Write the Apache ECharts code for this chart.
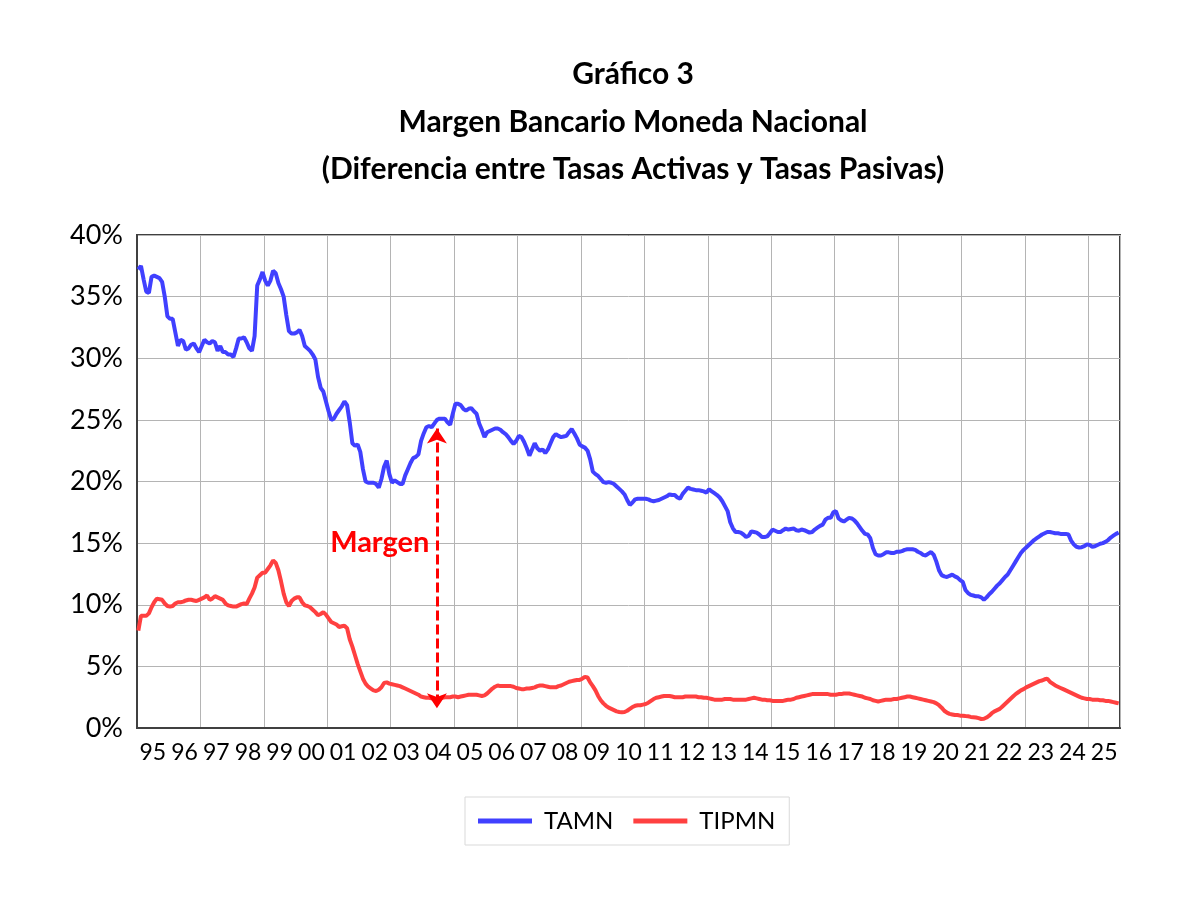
<!DOCTYPE html>
<html>
<head>
<meta charset="utf-8">
<script src="https://cdn.jsdelivr.net/npm/echarts@6/dist/echarts.min.js"></script>
<style>
html,body{margin:0;padding:0;background:#fff;}
#chart{width:1200px;height:905px;}
</style>
</head>
<body>
<div id="chart"></div>
<script>
// Year labels (one per year, 1995-2025)
const years = ['95','96','97','98','99','00','01','02','03','04','05','06','07','08','09','10','11','12','13','14','15','16','17','18','19','20','21','22','23','24','25'];

// TAMN monthly, %, Jan 1995 - Dec 2025
const tamn = [
  37.2,37.5,36.4,35.4,35.3,36.6,36.7,36.6,36.5,36.2,35.0,33.4,
  33.2,33.2,32.1,31.0,31.5,31.4,30.7,30.8,31.1,31.2,30.8,30.5,
  31.0,31.5,31.3,31.2,31.4,31.3,30.6,31.0,30.5,30.5,30.3,30.3,
  30.1,30.8,31.6,31.6,31.7,31.3,30.8,30.6,31.8,35.9,36.4,37.0,
  36.3,35.9,36.3,37.1,36.9,36.1,35.6,35.0,33.5,32.2,32.0,32.0,
  32.1,32.3,31.8,31.0,30.8,30.6,30.3,29.9,28.5,27.6,27.3,26.5,
  25.7,25.0,25.1,25.5,25.8,26.1,26.5,26.2,24.8,23.1,22.9,23.0,
  22.4,21.0,20.0,19.9,19.9,19.9,19.8,19.5,20.2,21.2,21.7,20.6,
  19.9,20.1,19.95,19.8,19.8,20.5,21.0,21.5,21.9,22.0,22.2,23.3,
  23.9,24.4,24.5,24.4,24.7,25.0,25.1,25.1,25.1,24.8,24.6,25.5,
  26.3,26.3,26.2,25.9,25.75,25.9,25.95,25.7,25.5,24.7,24.2,23.6,
  24.0,24.1,24.2,24.3,24.3,24.2,24.0,23.85,23.6,23.3,23.05,23.3,
  23.7,23.6,23.2,22.7,22.1,22.6,23.1,22.7,22.5,22.6,22.3,22.6,
  23.1,23.6,23.85,23.7,23.6,23.65,23.7,24.0,24.25,23.9,23.5,23.0,
  22.85,22.75,22.5,21.8,20.8,20.6,20.45,20.2,19.95,19.9,19.95,19.9,
  19.8,19.6,19.4,19.2,18.95,18.5,18.1,18.3,18.55,18.6,18.6,18.6,
  18.6,18.55,18.45,18.4,18.45,18.5,18.6,18.7,18.8,18.95,18.9,18.9,
  18.7,18.6,19.0,19.25,19.5,19.4,19.35,19.3,19.3,19.25,19.2,19.1,
  19.36,19.2,19.05,18.9,18.7,18.4,18.0,17.6,16.7,16.2,15.9,15.9,
  15.85,15.7,15.5,15.6,15.95,15.9,15.85,15.7,15.5,15.5,15.55,15.8,
  16.1,16.0,15.9,15.9,16.05,16.18,16.1,16.15,16.18,16.05,16.0,16.1,
  16.05,15.95,15.85,15.9,16.1,16.25,16.4,16.5,16.9,17.05,17.05,17.5,
  17.6,17.0,16.85,16.75,16.9,17.05,17.0,16.85,16.6,16.3,16.0,15.75,
  15.7,15.4,14.6,14.1,14.0,14.0,14.1,14.25,14.25,14.2,14.2,14.3,
  14.3,14.35,14.45,14.5,14.5,14.5,14.45,14.3,14.2,14.05,14.0,14.15,
  14.28,14.05,13.5,12.8,12.4,12.3,12.25,12.35,12.44,12.3,12.2,12.0,
  11.85,11.2,10.95,10.8,10.75,10.68,10.68,10.6,10.4,10.6,10.85,11.05,
  11.3,11.55,11.75,12.0,12.25,12.45,12.8,13.15,13.5,13.85,14.2,14.45,
  14.65,14.85,15.05,15.25,15.4,15.55,15.7,15.8,15.9,15.9,15.85,15.8,
  15.8,15.75,15.75,15.75,15.7,15.2,14.9,14.7,14.65,14.67,14.75,14.9,
  14.85,14.7,14.75,14.85,14.95,15.0,15.1,15.25,15.45,15.6,15.75,15.85
];

// TIPMN monthly, %, Jan 1995 - Dec 2025
const tipmn = [
  7.9,9.1,9.1,9.1,9.3,9.8,10.2,10.5,10.45,10.4,10.1,9.9,
  9.85,9.9,10.1,10.2,10.2,10.25,10.35,10.4,10.4,10.35,10.3,10.4,
  10.5,10.6,10.75,10.4,10.5,10.7,10.6,10.5,10.4,10.1,9.95,9.9,
  9.85,9.85,9.95,10.05,10.1,10.05,10.5,10.9,11.4,12.2,12.4,12.6,
  12.6,12.9,13.2,13.6,13.4,12.8,11.9,10.9,10.2,9.9,10.3,10.5,
  10.6,10.6,10.2,9.95,9.9,9.8,9.6,9.4,9.15,9.25,9.4,9.2,
  8.9,8.6,8.5,8.4,8.2,8.25,8.3,8.1,7.2,6.6,5.9,5.2,
  4.6,4.0,3.6,3.35,3.2,3.05,3.0,3.1,3.3,3.65,3.7,3.6,
  3.55,3.5,3.45,3.4,3.3,3.2,3.1,3.0,2.9,2.8,2.7,2.55,
  2.5,2.45,2.45,2.4,2.35,2.3,2.35,2.45,2.5,2.5,2.5,2.55,
  2.55,2.5,2.55,2.6,2.65,2.7,2.7,2.7,2.7,2.65,2.6,2.65,
  2.8,3.0,3.2,3.35,3.45,3.4,3.4,3.4,3.4,3.4,3.35,3.25,
  3.2,3.15,3.15,3.2,3.2,3.25,3.3,3.4,3.45,3.45,3.4,3.35,
  3.3,3.3,3.3,3.4,3.45,3.55,3.65,3.75,3.8,3.85,3.9,3.9,
  4.0,4.15,4.1,3.7,3.4,3.05,2.6,2.25,2.0,1.8,1.65,1.55,
  1.45,1.35,1.3,1.27,1.3,1.4,1.55,1.7,1.8,1.85,1.85,1.9,
  1.95,2.05,2.2,2.35,2.45,2.5,2.55,2.6,2.6,2.6,2.55,2.5,
  2.5,2.5,2.5,2.55,2.55,2.55,2.55,2.55,2.5,2.5,2.45,2.45,
  2.4,2.35,2.3,2.3,2.3,2.3,2.35,2.35,2.35,2.3,2.3,2.3,
  2.3,2.3,2.3,2.35,2.4,2.45,2.4,2.35,2.3,2.3,2.25,2.25,
  2.2,2.2,2.2,2.2,2.2,2.25,2.3,2.3,2.35,2.45,2.5,2.55,
  2.6,2.65,2.7,2.75,2.75,2.75,2.75,2.75,2.75,2.75,2.7,2.7,
  2.7,2.75,2.75,2.8,2.8,2.8,2.75,2.7,2.65,2.6,2.55,2.45,
  2.4,2.35,2.25,2.2,2.15,2.2,2.25,2.3,2.3,2.3,2.35,2.35,
  2.4,2.45,2.5,2.55,2.55,2.5,2.45,2.4,2.35,2.3,2.25,2.2,
  2.15,2.1,2.0,1.85,1.65,1.4,1.25,1.15,1.1,1.05,1.05,1.0,
  1.0,0.97,0.95,0.9,0.88,0.85,0.8,0.73,0.75,0.85,1.0,1.2,
  1.35,1.45,1.55,1.75,1.95,2.15,2.35,2.55,2.75,2.9,3.05,3.15,
  3.3,3.4,3.5,3.6,3.7,3.8,3.85,3.95,4.0,3.75,3.6,3.45,
  3.35,3.25,3.15,3.05,2.95,2.85,2.75,2.65,2.55,2.45,2.4,2.35,
  2.35,2.3,2.3,2.3,2.25,2.25,2.2,2.2,2.15,2.1,2.05,2.0
];

// Annotation: month index (mid-2004) and the margin's ends, %
const marginMonth = 113.5;
const marginTop = 24.3;
const marginBottom = 1.6;
const marginLabelAt = 15.0;

const FONT = 'Lato';
const BLUE = '#4040ff';
const RED = '#ff4040';

const toPairs = arr => arr.map((v, i) => [i + 0.5, v]);

const chart = echarts.init(document.getElementById('chart'), null, {renderer: 'canvas'});
chart.setOption({
  animation: false,
  backgroundColor: '#ffffff',
  title: {
    text: 'Gráfico 3\nMargen Bancario Moneda Nacional\n(Diferencia entre Tasas Activas y Tasas Pasivas)',
    left: 628,
    top: 46,
    textAlign: 'center',
    textStyle: {fontFamily: FONT, fontWeight: 'bold', fontSize: 30, lineHeight: 47.5, color: '#000'}
  },
  grid: {left: 137, right: 80, top: 235, bottom: 177, show: true, borderColor: '#404040', borderWidth: 2, containLabel: false},
  legend: {
    left: 465, top: 797,
    padding: [12, 14, 12, 13],
    itemGap: 20,
    itemWidth: 54, itemHeight: 5,
    borderColor: '#d9d9d9', borderWidth: 1,
    icon: 'rect',
    textStyle: {fontFamily: FONT, fontSize: 24, color: '#000', padding: [0, 0, 0, 7]},
    data: ['TAMN', 'TIPMN']
  },
  xAxis: [
    {
      type: 'value', min: 0, max: 372, interval: 24,
      axisLine: {show: true, lineStyle: {color: '#404040', width: 2}},
      axisTick: {show: false},
      axisLabel: {show: false},
      splitLine: {show: true, lineStyle: {color: '#b4b4b4', width: 1}}
    },
    {
      type: 'category', data: years, boundaryGap: true, position: 'bottom',
      axisLine: {show: false}, axisTick: {show: false},
      splitLine: {show: false},
      axisLabel: {interval: 0, fontFamily: FONT, fontSize: 23, color: '#000', margin: 13}
    }
  ],
  yAxis: {
    type: 'value', min: 0, max: 40, interval: 5,
    axisLine: {show: true, lineStyle: {color: '#404040', width: 2}},
    axisTick: {show: false},
    axisLabel: {formatter: '{value}%', fontFamily: FONT, fontSize: 27, color: '#000', margin: 14},
    splitLine: {show: true, lineStyle: {color: '#b4b4b4', width: 1}}
  },
  series: [
    {
      name: 'TAMN', type: 'line', xAxisIndex: 0, data: toPairs(tamn),
      showSymbol: false, symbol: 'none',
      lineStyle: {color: BLUE, width: 4}, itemStyle: {color: BLUE}, z: 3
    },
    {
      name: 'TIPMN', type: 'line', xAxisIndex: 0, data: toPairs(tipmn),
      showSymbol: false, symbol: 'none',
      lineStyle: {color: RED, width: 4}, itemStyle: {color: RED}, z: 3,
      markLine: {
        silent: true,
        symbol: ['arrow', 'arrow'],
        symbolSize: [15, 15],
        label: {show: false},
        lineStyle: {color: '#ff0000', width: 3, type: [10, 4]},
        data: [[{coord: [marginMonth, marginTop]}, {coord: [marginMonth, marginBottom]}]]
      },
      markPoint: {
        silent: true,
        symbol: 'circle', symbolSize: 1,
        itemStyle: {color: 'rgba(0,0,0,0)'},
        label: {show: true, position: 'left', distance: 7, formatter: 'Margen',
          fontFamily: FONT, fontWeight: 'bold', fontSize: 29, color: '#ff0000'},
        data: [{coord: [marginMonth, marginLabelAt]}]
      }
    }
  ]
});
</script>
</body>
</html>
